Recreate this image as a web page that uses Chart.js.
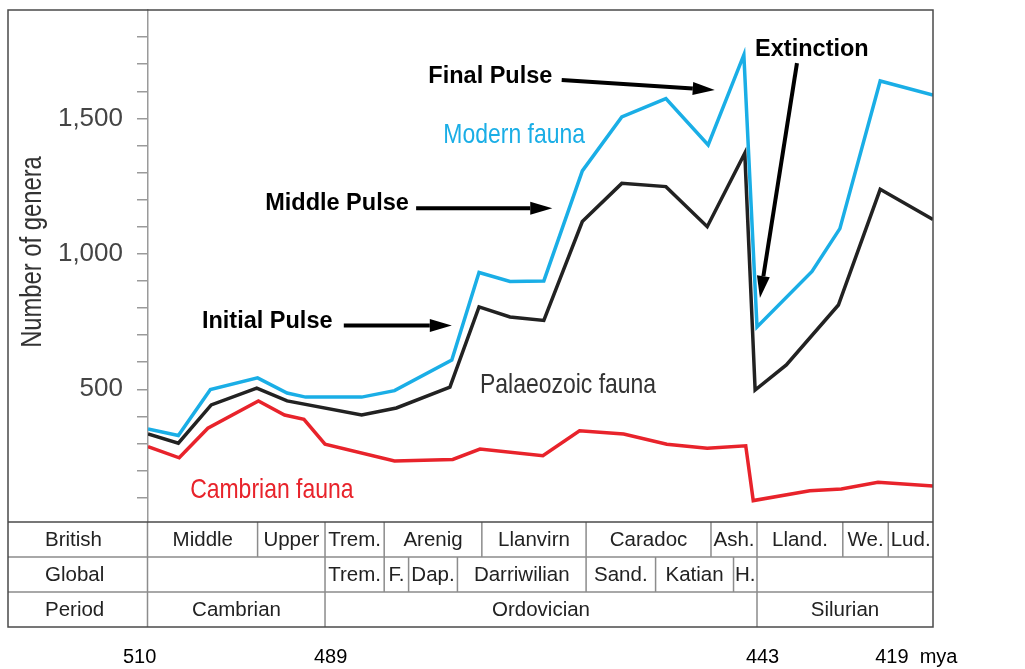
<!DOCTYPE html>
<html>
<head>
<meta charset="utf-8">
<script src="https://cdn.jsdelivr.net/npm/chart.js@4.4.1/dist/chart.umd.min.js"></script>
<style>
  body { margin: 0; background: #fff; }
</style>
</head>
<body>
<canvas id="genera-diagram" width="1025" height="669"></canvas>
<script>
// ages in mya, number of genera
const modernAges = [510, 506.4, 502.6, 497.0, 493.5, 491.3, 485.1, 481.6, 475.5, 472.6, 469.3, 465.7, 461.6, 457.4, 452.7, 448.2, 444.4, 443.0, 435.5, 431.7, 426.2, 419];
const modernGenera = [353, 329, 499, 542, 486, 471, 471, 495, 608, 931, 898, 900, 1306, 1505, 1573, 1402, 1734, 730, 935, 1093, 1638, 1586];

const palaeoAges = [510, 506.4, 502.5, 497.1, 493.5, 485.1, 481.4, 475.7, 472.6, 469.3, 465.7, 461.6, 457.4, 452.7, 448.3, 444.3, 443.2, 439.0, 431.9, 426.2, 419];
const palaeoGenera = [335, 301, 442, 504, 457, 405, 431, 508, 804, 767, 754, 1119, 1260, 1248, 1100, 1371, 497, 590, 811, 1238, 1127];

const cambrianAges = [510, 506.3, 502.9, 496.9, 493.8, 491.5, 489.0, 481.6, 475.4, 472.5, 465.8, 461.9, 457.2, 452.6, 448.3, 444.2, 443.4, 435.8, 431.5, 426.5, 419];
const cambrianGenera = [288, 247, 356, 457, 405, 389, 297, 235, 241, 279, 255, 347, 335, 297, 282, 291, 89, 125, 132, 157, 143];

const tickAges = [510, 489, 443, 419];
const tickLabels = ['510   ', '  489', '  443', '419  mya      '];
const generaTicks = [100, 200, 300, 400, 500, 600, 700, 800, 900, 1000, 1100, 1200, 1300, 1400, 1500, 1600, 1700, 1800];

// stratigraphic table under the plot
const britishNames = ['Middle', 'Upper', 'Trem.', 'Arenig', 'Llanvirn', 'Caradoc', 'Ash.', 'Lland.', 'We.', 'Lud.'];
const britishBounds = [510, 497.0, 489, 482.7, 472.3, 461.2, 447.9, 443, 431.3, 425.1, 419];
const globalNames = ['', 'Trem.', 'F.', 'Dap.', 'Darriwilian', 'Sand.', 'Katian', 'H.', ''];
const globalBounds = [510, 489, 482.7, 480.1, 474.9, 461.2, 453.8, 445.5, 443, 419];
const periodNames = ['Cambrian', 'Ordovician', 'Silurian'];
const periodBounds = [510, 489, 443, 419];

// the time axis is not linear: each period gets its own stretch
const breakAges = [510, 489, 443, 419];
const breakShare = [0, 0.2255, 0.7758, 1];

class StageScale extends Chart.LinearScale {
  static id = 'stage';
  getPixelForValue(value) {
    let i = 0;
    while (i < breakAges.length - 2 && value < breakAges[i + 1]) i++;
    const t = (breakAges[i] - value) / (breakAges[i] - breakAges[i + 1]);
    const share = breakShare[i] + t * (breakShare[i + 1] - breakShare[i]);
    return this.left + share * this.width;
  }
}
Chart.register(StageScale);

const SANS = "'Liberation Sans', Arial, sans-serif";
const BLUE = '#1aaee6';
const BLACK = '#222222';
const RED = '#e8232b';
const SQUEEZE = 0.82; // condensed look for the light labels

const labels = [
  {text: 'Initial Pulse', age: 503.6, genera: 727, font: 'bold 23.5px ' + SANS, color: '#000', sx: 1},
  {text: 'Middle Pulse', age: 496.1, genera: 1162, font: 'bold 23.5px ' + SANS, color: '#000', sx: 1},
  {text: 'Final Pulse', age: 478.0, genera: 1631, font: 'bold 23.5px ' + SANS, color: '#000', sx: 1},
  {text: 'Extinction', age: 443.2, genera: 1730, font: 'bold 23.5px ' + SANS, color: '#000', sx: 1},
  {text: 'Modern fauna', age: 476.4, genera: 1409, font: '28px ' + SANS, color: BLUE, sx: SQUEEZE},
  {text: 'Palaeozoic fauna', age: 472.5, genera: 486, font: '28px ' + SANS, color: '#333', sx: SQUEEZE},
  {text: 'Cambrian fauna', age: 505.0, genera: 97, font: '28px ' + SANS, color: RED, sx: SQUEEZE}
];

const arrows = [
  {from: [487.0, 735], to: [475.5, 735]},
  {from: [479.3, 1168], to: [464.8, 1168]},
  {from: [463.8, 1642], to: [447.5, 1605]},
  {from: [437.55, 1704], to: [442.6, 837]}
];

function drawArrow(ctx, x0, y0, x1, y1) {
  const ang = Math.atan2(y1 - y0, x1 - x0);
  const head = 22, half = 6.5;
  const bx = x1 - head * Math.cos(ang), by = y1 - head * Math.sin(ang);
  ctx.beginPath();
  ctx.moveTo(x0, y0);
  ctx.lineTo(bx, by);
  ctx.lineWidth = 4;
  ctx.strokeStyle = '#000';
  ctx.stroke();
  ctx.beginPath();
  ctx.moveTo(x1, y1);
  ctx.lineTo(bx + half * Math.sin(ang), by - half * Math.cos(ang));
  ctx.lineTo(bx - half * Math.sin(ang), by + half * Math.cos(ang));
  ctx.closePath();
  ctx.fillStyle = '#000';
  ctx.fill();
}

const tablePlugin = {
  id: 'stageTable',
  afterDraw(chart) {
    const {ctx, chartArea: a, scales: {x, y}} = chart;
    const rowH = 35;
    const rowTop = [a.bottom, a.bottom + rowH, a.bottom + 2 * rowH];
    const bottom = a.bottom + 3 * rowH;
    const frameLeft = 8;
    ctx.save();

    // inner lines of the table
    ctx.strokeStyle = '#8c8c8c';
    ctx.lineWidth = 1.5;
    ctx.beginPath();
    [rowTop[1], rowTop[2]].forEach(yy => { ctx.moveTo(frameLeft, yy); ctx.lineTo(a.right, yy); });
    ctx.moveTo(a.left - 0.5, a.bottom);
    ctx.lineTo(a.left - 0.5, bottom);
    const rowsDef = [[britishNames, britishBounds], [globalNames, globalBounds], [periodNames, periodBounds]];
    rowsDef.forEach(([names, bounds], r) => {
      for (let i = 1; i < bounds.length - 1; i++) {
        const px = x.getPixelForValue(bounds[i]);
        ctx.moveTo(px, rowTop[r]);
        ctx.lineTo(px, rowTop[r] + rowH);
      }
    });
    ctx.stroke();

    // outer frame
    ctx.strokeStyle = '#4a4a4a';
    ctx.lineWidth = 1.5;
    ctx.strokeRect(frameLeft, a.top, a.right - frameLeft, bottom - a.top);
    ctx.beginPath();
    ctx.moveTo(frameLeft, a.bottom);
    ctx.lineTo(a.right, a.bottom);
    ctx.stroke();

    // table text
    ctx.font = '20.5px ' + SANS;
    ctx.fillStyle = '#222';
    ctx.textBaseline = 'middle';
    ctx.textAlign = 'left';
    ['British', 'Global', 'Period'].forEach((t, r) => ctx.fillText(t, 45, rowTop[r] + rowH / 2 + 1));
    ctx.textAlign = 'center';
    rowsDef.forEach(([names, bounds], r) => {
      names.forEach((n, i) => {
        if (!n) return;
        const cx = (x.getPixelForValue(bounds[i]) + x.getPixelForValue(bounds[i + 1])) / 2;
        ctx.fillText(n, cx, rowTop[r] + rowH / 2 + 1);
      });
    });

    // y axis title
    ctx.save();
    ctx.translate(33, 252);
    ctx.rotate(-Math.PI / 2);
    ctx.scale(SQUEEZE, 1);
    ctx.font = '29px ' + SANS;
    ctx.fillStyle = '#333';
    ctx.fillText('Number of genera', 0, 0);
    ctx.restore();

    // series names and pulse notes
    ctx.textAlign = 'left';
    ctx.textBaseline = 'alphabetic';
    labels.forEach(l => {
      ctx.save();
      ctx.translate(x.getPixelForValue(l.age), y.getPixelForValue(l.genera));
      ctx.scale(l.sx, 1);
      ctx.font = l.font;
      ctx.fillStyle = l.color;
      ctx.fillText(l.text, 0, 0);
      ctx.restore();
    });
    arrows.forEach(ar => {
      drawArrow(ctx,
        x.getPixelForValue(ar.from[0]), y.getPixelForValue(ar.from[1]),
        x.getPixelForValue(ar.to[0]), y.getPixelForValue(ar.to[1]));
    });
    ctx.restore();
  }
};

const toPoints = (ages, vals) => ages.map((a, i) => ({x: a, y: vals[i]}));

new Chart(document.getElementById('genera-diagram'), {
  type: 'line',
  data: {
    datasets: [
      {label: 'Modern fauna', data: toPoints(modernAges, modernGenera), borderColor: BLUE},
      {label: 'Palaeozoic fauna', data: toPoints(palaeoAges, palaeoGenera), borderColor: BLACK},
      {label: 'Cambrian fauna', data: toPoints(cambrianAges, cambrianGenera), borderColor: RED}
    ]
  },
  options: {
    responsive: false,
    animation: false,
    events: [],
    layout: {padding: {top: 10, right: 92, left: 0, bottom: 0}},
    elements: {
      line: {borderWidth: 3.5, tension: 0},
      point: {radius: 0}
    },
    plugins: {legend: {display: false}, tooltip: {enabled: false}},
    scales: {
      x: {
        type: 'stage',
        min: 419,
        max: 510,
        // invisible long tick marks push the age labels down below the table
        grid: {display: true, drawOnChartArea: false, drawTicks: true, tickLength: 123, color: 'rgba(0,0,0,0)'},
        border: {display: false},
        afterFit: s => { s.height = 147; s.paddingLeft = 0; s.paddingRight = 0; },
        afterBuildTicks: s => { s.ticks = tickAges.map(v => ({value: v})); },
        ticks: {
          padding: 0,
          maxRotation: 0,
          autoSkip: false,
          color: '#000',
          font: {family: SANS, size: 20},
          callback: (v, i) => tickLabels[i]
        }
      },
      y: {
        min: 10,
        max: 1900,
        afterFit: s => { s.width = 148; s.paddingTop = 0; s.paddingBottom = 0; },
        afterBuildTicks: s => { s.ticks = generaTicks.map(v => ({value: v})); },
        border: {display: true, color: '#9a9a9a', width: 1.5},
        grid: {drawOnChartArea: false, drawTicks: true, tickLength: 11, color: '#9a9a9a', lineWidth: 1.5},
        ticks: {
          autoSkip: false,
          padding: 14,
          color: '#444',
          font: {family: SANS, size: 26},
          callback: v => v % 500 === 0 ? v.toLocaleString('en-US') : ''
        }
      }
    }
  },
  plugins: [tablePlugin]
});
</script>
</body>
</html>
